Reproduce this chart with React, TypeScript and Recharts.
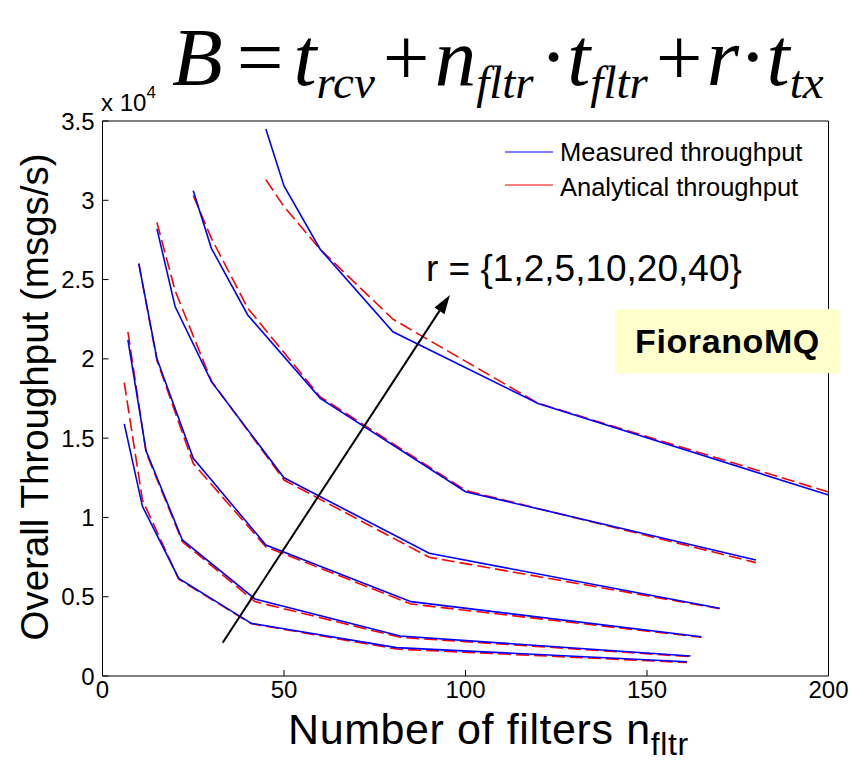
import React from "react";
import { LineChart, Line, XAxis, YAxis, ReferenceLine } from "recharts";

const xTicks = [0, 50, 100, 150, 200];
const yTicks = [0, 5000, 10000, 15000, 20000, 25000, 30000, 35000];

// r = 1
const xR1 = [6, 11, 21, 41, 81, 161];
const measR1 = [15900, 10700, 6160, 3320, 1790, 900];
const anaR1 = [18500, 11100, 6100, 3300, 1700, 850];
// r = 2
const xR2 = [7, 12, 22, 42, 82, 162];
const measR2 = [21200, 14200, 8580, 4860, 2520, 1260];
const anaR2 = [21700, 14100, 8470, 4690, 2440, 1220];
// r = 5
const xR5 = [10, 15, 25, 45, 85, 165];
const measR5 = [26000, 20000, 13730, 8260, 4690, 2480];
const anaR5 = [26000, 19900, 13400, 8150, 4540, 2440];
// r = 10
const xR10 = [15, 20, 30, 50, 90, 170];
const measR10 = [28200, 23300, 18560, 12500, 7740, 4270];
const anaR10 = [28600, 24300, 18600, 12360, 7490, 4250];
// r = 20
const xR20 = [25, 30, 40, 60, 100, 180];
const measR20 = [30600, 26970, 22770, 17510, 11620, 7320];
const anaR20 = [30300, 27600, 23200, 17600, 11700, 7150];
// r = 40
const xR40 = [45, 50, 60, 80, 120, 200];
const measR40 = [34500, 30900, 26900, 21710, 17190, 11410];
const anaR40 = [31300, 29600, 26900, 22500, 17200, 11600];

// arrow annotation (data coords)
const arrowSeg = [
  { x: 33.1, y: 2100 },
  { x: 95.7, y: 24030 },
];

const curves = [
  { r: 1, x: xR1, meas: measR1, ana: anaR1 },
  { r: 2, x: xR2, meas: measR2, ana: anaR2 },
  { r: 5, x: xR5, meas: measR5, ana: anaR5 },
  { r: 10, x: xR10, meas: measR10, ana: anaR10 },
  { r: 20, x: xR20, meas: measR20, ana: anaR20 },
  { r: 40, x: xR40, meas: measR40, ana: anaR40 },
];

const toPoints = (xs: number[], ys: number[]) => xs.map((x, i) => ({ x, y: ys[i] }));

const FONT = "'Liberation Sans', Arial, sans-serif";
const SERIF = "'Liberation Serif', 'Times New Roman', serif";

function Arrow(props: any) {
  const { x1, y1, x2, y2 } = props;
  const dx = x2 - x1;
  const dy = y2 - y1;
  const len = Math.sqrt(dx * dx + dy * dy);
  const ux = dx / len;
  const uy = dy / len;
  const hl = 19;
  const hw = 6;
  const bx = x2 - ux * hl;
  const by = y2 - uy * hl;
  const pts = `${x2},${y2} ${bx - uy * hw},${by + ux * hw} ${bx + uy * hw},${by - ux * hw}`;
  return (
    <g>
      <line x1={x1} y1={y1} x2={bx} y2={by} stroke="#000" strokeWidth={2} />
      <polygon points={pts} fill="#000" />
    </g>
  );
}

function XLabel() {
  return (
    <text x={288} y={744} fontFamily={FONT} fontSize={43} letterSpacing={0.6} fill="#000">
      Number of filters n
      <tspan fontSize={32} dy={11}>fltr</tspan>
    </text>
  );
}

function YLabel() {
  return (
    <text
      x={0}
      y={0}
      transform="translate(48,397) rotate(-90)"
      textAnchor="middle"
      fontFamily={FONT}
      fontSize={38.5}
      fill="#000"
    >
      Overall Throughput (msgs/s)
    </text>
  );
}

export default function App() {
  return (
    <div
      style={{
        position: "absolute",
        left: 0,
        top: 0,
        width: 852,
        height: 765,
        background: "#fff",
        fontFamily: FONT,
      }}
    >
      <LineChart
        width={852}
        height={765}
        margin={{ top: 121, right: 23.5, bottom: 59, left: 42.5 }}
      >
        <XAxis
          dataKey="x"
          type="number"
          domain={[0, 200]}
          ticks={xTicks}
          interval={0}
          height={30}
          tickSize={-6}
          tickMargin={11}
          stroke="#000"
          tick={{ fill: "#000", fontSize: 24, fontFamily: FONT }}
          label={{ content: XLabel }}
        />
        <XAxis
          xAxisId="top"
          orientation="top"
          mirror
          type="number"
          domain={[0, 200]}
          allowDataOverflow
          ticks={xTicks}
          interval={0}
          tick={false}
          tickSize={6}
          stroke="#000"
        />
        <YAxis
          type="number"
          domain={[0, 35000]}
          ticks={yTicks}
          interval={0}
          width={60}
          tickSize={-6}
          tickMargin={14}
          stroke="#000"
          tick={{ fill: "#000", fontSize: 24, fontFamily: FONT }}
          tickFormatter={(v: number) => String(v / 10000)}
          label={{ content: YLabel }}
        />
        <YAxis
          yAxisId="right"
          orientation="right"
          mirror
          type="number"
          domain={[0, 35000]}
          allowDataOverflow
          ticks={yTicks}
          interval={0}
          tick={false}
          tickSize={6}
          stroke="#000"
        />
        {curves.map((c) => (
          <Line
            key={`a${c.r}`}
            data={toPoints(c.x, c.ana)}
            dataKey="y"
            type="linear"
            stroke="#ff0000"
            strokeWidth={1.6}
            strokeDasharray="13 5"
            dot={false}
            activeDot={false}
            isAnimationActive={false}
          />
        ))}
        {curves.map((c) => (
          <Line
            key={`m${c.r}`}
            data={toPoints(c.x, c.meas)}
            dataKey="y"
            type="linear"
            stroke="#0000ff"
            strokeWidth={1.6}
            dot={false}
            activeDot={false}
            isAnimationActive={false}
          />
        ))}
        <ReferenceLine segment={arrowSeg} shape={Arrow} />
      </LineChart>

      <svg
        width={852}
        height={765}
        style={{ position: "absolute", left: 0, top: 0, pointerEvents: "none" }}
      >
        {/* title formula */}
        <text x={172} y={85} fontFamily={SERIF} fontSize={83} fontStyle="italic" fill="#000">
          B
          <tspan dx={14} fontStyle="normal">=</tspan>
          <tspan dx={10}>t</tspan>
          <tspan fontSize={47} dy={13}>rcv</tspan>
          <tspan dx={8} dy={-13} fontStyle="normal">+</tspan>
          <tspan dx={5}>n</tspan>
          <tspan fontSize={47} dy={13}>fltr</tspan>
          <tspan dx={6} dy={-13} fontStyle="normal">·</tspan>
          <tspan>t</tspan>
          <tspan fontSize={47} dy={13}>fltr</tspan>
          <tspan dx={8} dy={-13} fontStyle="normal">+</tspan>
          <tspan dx={4}>r</tspan>
          <tspan fontStyle="normal">·</tspan>
          <tspan>t</tspan>
          <tspan fontSize={47} dy={13}>tx</tspan>
        </text>

        {/* exponent label */}
        <text x={101} y={111} fontFamily={FONT} fontSize={24} fill="#000">
          x 10
          <tspan fontSize={17} dy={-13}>4</tspan>
        </text>

        {/* legend */}
        <line x1={505} y1={152} x2={553} y2={152} stroke="#0000ff" strokeWidth={1.2} />
        <text x={560} y={161} fontFamily={FONT} fontSize={25.5} fill="#000">Measured throughput</text>
        <line x1={505} y1={185} x2={553} y2={185} stroke="#ff0000" strokeWidth={1.2} />
        <text x={560} y={196} fontFamily={FONT} fontSize={25.5} fill="#000">Analytical throughput</text>

        {/* r annotation */}
        <text x={426} y={281} fontFamily={FONT} fontSize={37} fill="#000">r = {"{1,2,5,10,20,40}"}</text>
      </svg>

      <div
        style={{
          position: "absolute",
          left: 615,
          top: 309,
          width: 225,
          height: 64,
          background: "#ffffcc",
          display: "flex",
          alignItems: "center",
          justifyContent: "center",
          fontFamily: FONT,
          fontWeight: "bold",
          fontSize: 34,
          letterSpacing: 0.6,
          color: "#000",
        }}
      >
        FioranoMQ
      </div>
    </div>
  );
}
